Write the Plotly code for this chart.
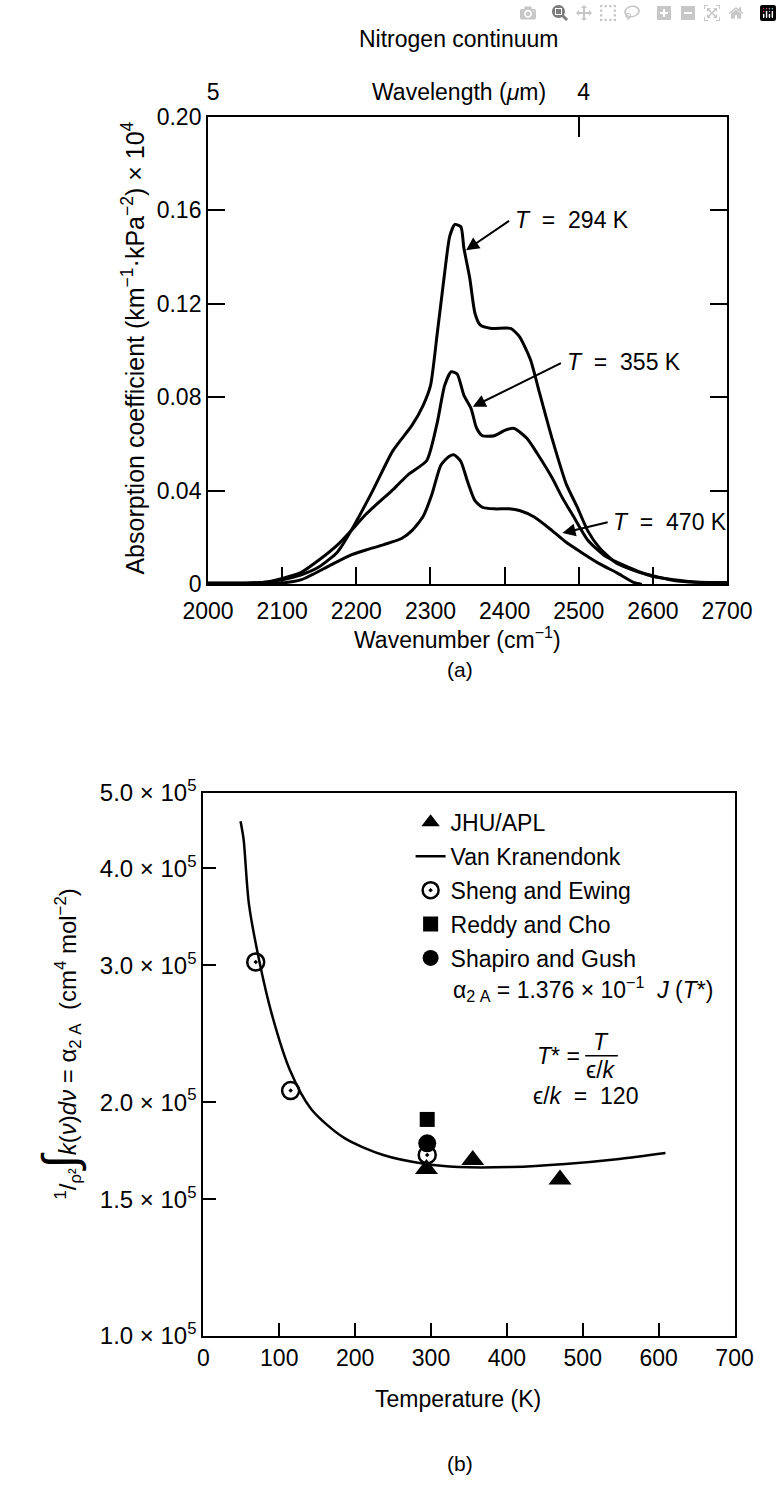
import math
import plotly.graph_objects as go

# ---------------- data: panel (a) nitrogen continuum ----------------
wn_294 = [2000, 2050, 2080, 2100, 2125, 2150, 2175, 2193, 2222, 2249, 2275, 2290, 2300, 2309,
          2319, 2326, 2333, 2341, 2345, 2353, 2360, 2367, 2382, 2408, 2420, 2435, 2447, 2459,
          2469, 2483, 2498, 2512, 2527, 2551, 2599, 2657, 2700]
k_294 = [0.0005, 0.0005, 0.001, 0.002, 0.004, 0.0075, 0.014, 0.023, 0.040, 0.057, 0.068, 0.0765,
         0.085, 0.107, 0.133, 0.149, 0.154, 0.153, 0.144, 0.131, 0.116, 0.111, 0.1095, 0.1095,
         0.106, 0.096, 0.082, 0.068, 0.057, 0.043, 0.033, 0.023, 0.016, 0.009, 0.0035, 0.001, 0.0008]

wn_355 = [2000, 2050, 2080, 2100, 2125, 2150, 2175, 2193, 2213, 2251, 2270, 2295, 2309, 2319,
          2328, 2336, 2345, 2355, 2362, 2370, 2386, 2401, 2413, 2430, 2444, 2464, 2478, 2493,
          2512, 2536, 2585, 2633, 2700]
k_355 = [0.0005, 0.0005, 0.001, 0.0025, 0.005, 0.0105, 0.017, 0.023, 0.0300, 0.041, 0.047, 0.053,
         0.069, 0.085, 0.091, 0.090, 0.081, 0.075, 0.067, 0.0636, 0.0636, 0.066, 0.0667, 0.0625,
         0.056, 0.0456, 0.037, 0.029, 0.019, 0.012, 0.005, 0.0014, 0.0005]

wn_470 = [2000, 2050, 2080, 2100, 2126, 2164, 2193, 2213, 2237, 2261, 2275, 2290, 2302, 2314,
          2325, 2332, 2341, 2350, 2360, 2370, 2386, 2406, 2420, 2440, 2464, 2483, 2502, 2527,
          2551, 2575, 2585]
k_470 = [0.0005, 0.0005, 0.0005, 0.0006, 0.002, 0.008, 0.0126, 0.0147, 0.017, 0.0196, 0.023,
         0.029, 0.0386, 0.051, 0.0547, 0.0554, 0.0526, 0.044, 0.0358, 0.033, 0.0323, 0.0323,
         0.0316, 0.0288, 0.023, 0.018, 0.014, 0.009, 0.005, 0.0007, 0.0]

a_xticks = [2000, 2100, 2200, 2300, 2400, 2500, 2600, 2700]
a_yticks = [0, 0.04, 0.08, 0.12, 0.16, 0.20]
a_yticktext = ["0", "0.04", "0.08", "0.12", "0.16", "0.20"]
wl_tickvals = [2000, 2500]
wl_ticktext = ["5", "4"]

# curve labels: text, arrow tail (wn, k), arrow head (wn, k)
curve_labels = ["<i>T</i>  =  294 K", "<i>T</i>  =  355 K", "<i>T</i>  =  470 K"]
label_tail_x = [2408, 2478, 2541]
label_tail_y = [0.156, 0.095, 0.0267]
label_head_x = [2348, 2357, 2478]
label_head_y = [0.143, 0.076, 0.022]

# ---------------- data: panel (b) integrated absorption ----------------
vk_T = [49, 53, 60, 74, 90, 114, 142, 185, 237, 293, 336, 406, 477, 548, 609]
vk_a = [4.6e5, 4.36e5, 3.6e5, 3.03e5, 2.6e5, 2.2e5, 1.96e5, 1.8e5, 1.71e5, 1.665e5, 1.65e5,
        1.65e5, 1.665e5, 1.69e5, 1.72e5]
jhu_T = [294, 355, 470]
jhu_a = [1.64e5, 1.685e5, 1.59e5]
sheng_T = [69, 115, 295]
sheng_a = [3.03e5, 2.07e5, 1.71e5]
reddy_T = [295]
reddy_a = [1.90e5]
shapiro_T = [295]
shapiro_a = [1.77e5]

b_yticks = [1.0e5, 1.5e5, 2.0e5, 3.0e5, 4.0e5, 5.0e5]
b_yticktext = ["1.0 × 10<sup>5</sup>", "1.5 × 10<sup>5</sup>", "2.0 × 10<sup>5</sup>",
               "3.0 × 10<sup>5</sup>", "4.0 × 10<sup>5</sup>", "5.0 × 10<sup>5</sup>"]
b_xticks = [0, 100, 200, 300, 400, 500, 600, 700]

# ---------------- figure ----------------
W, H = 782, 1492
FONT = "Liberation Sans, Arial, Helvetica, sans-serif"
FS = 23


def px(x):
    return x / W


def py(y):
    return 1 - y / H


fig = go.Figure()

line_style = dict(color="black", width=3, shape="spline", smoothing=0.6)
for xs, ys in [(wn_294, k_294), (wn_355, k_355), (wn_470, k_470)]:
    fig.add_trace(go.Scatter(x=xs, y=ys, mode="lines", line=line_style, showlegend=False,
                             xaxis="x", yaxis="y", hoverinfo="skip"))
# invisible trace so the top (wavelength) axis is drawn
fig.add_trace(go.Scatter(x=wn_294, y=k_294, mode="lines", line=dict(width=0), opacity=0,
                         showlegend=False, xaxis="x2", yaxis="y", hoverinfo="skip"))

# panel b
fig.add_trace(go.Scatter(x=jhu_T, y=jhu_a, mode="markers", name="JHU/APL",
                         marker=dict(symbol="triangle-up", size=20, color="black"),
                         xaxis="x3", yaxis="y3", legendgroup="g1"))
fig.add_trace(go.Scatter(x=vk_T, y=vk_a, mode="lines", name="Van Kranendonk",
                         line=dict(color="black", width=2.5, shape="spline", smoothing=0.8),
                         xaxis="x3", yaxis="y3", legendgroup="g2"))
fig.add_trace(go.Scatter(x=sheng_T, y=sheng_a, mode="markers", name="Sheng and Ewing",
                         marker=dict(symbol="circle-open-dot", size=17, color="black",
                                     line=dict(width=2.5, color="black")),
                         xaxis="x3", yaxis="y3", legendgroup="g3"))
fig.add_trace(go.Scatter(x=reddy_T, y=reddy_a, mode="markers", name="Reddy and Cho",
                         marker=dict(symbol="square", size=15, color="black"),
                         xaxis="x3", yaxis="y3", legendgroup="g4"))
fig.add_trace(go.Scatter(x=shapiro_T, y=shapiro_a, mode="markers", name="Shapiro and Gush",
                         marker=dict(symbol="circle", size=18, color="black"),
                         xaxis="x3", yaxis="y3", legendgroup="g5"))

axis_common = dict(showline=True, linecolor="black", linewidth=2, ticks="inside",
                   tickwidth=1.5, tickcolor="black", showgrid=False,
                   zeroline=False, tickfont=dict(size=FS, color="black", family=FONT))


def note(text, x, y, xanchor="center", yanchor="middle", size=FS, angle=0):
    return dict(text=text, x=px(x), y=py(y), xref="paper", yref="paper", showarrow=False,
                xanchor=xanchor, yanchor=yanchor, textangle=angle,
                font=dict(size=size, family=FONT, color="black"))


annotations = [
    note("Nitrogen continuum", 463, 22),
    note("Wavelength (<i>μ</i>m)", 464, 77),
    note("Wavenumber (cm<sup>−1</sup>)", 462, 634),
    note("(a)", 465, 666, size=FS - 2),
    note("Absorption coefficient (km<sup>−1</sup>·kPa<sup>−2</sup>) × 10<sup>4</sup>", 115, 338,
         size=25, angle=-90),
    note("Temperature (K)", 463, 1410),
    note("(b)", 465, 1476, size=FS - 2),
    note("<sup>1</sup>/<sub>ρ²</sub><span style='font-size:48px'>∫</span><i>k</i>(<i>ν</i>)<i>dν</i>"
         " = α<sub>2 A</sub>  (cm<sup>4</sup> mol<sup>−2</sup>)", 36, 1048, size=24, angle=-90),
    # formula text in panel b
    note("α<sub>2 A</sub> = 1.376 × 10<sup>−1</sup>  <i>J</i> (<i>T</i>*)", 455, 992,
         xanchor="left"),
    note("<i>T</i>* =", 545, 1060, xanchor="left"),
    note("<i>T</i>", 616, 1046),
    note("ϵ/<i>k</i>", 616, 1075),
    note("ϵ/<i>k</i>  =  120", 541, 1101, xanchor="left"),
]

# curve labels and arrows
for txt, tx, ty, hx, hy in zip(curve_labels, label_tail_x, label_tail_y, label_head_x, label_head_y):
    annotations.append(dict(x=hx, y=hy, ax=tx, ay=ty, xref="x", yref="y", axref="x", ayref="y",
                            text="", showarrow=True, arrowhead=2, arrowsize=1.3, arrowwidth=2,
                            arrowcolor="black"))
    annotations.append(dict(x=tx + 3, y=ty, xref="x", yref="y", text=txt, showarrow=False,
                            xanchor="left", yanchor="middle",
                            font=dict(size=FS, family=FONT, color="black")))

shapes = [dict(type="line", xref="paper", yref="paper", x0=px(599), x1=px(634),
               y0=py(1060), y1=py(1060), line=dict(color="black", width=1.5))]

fig.update_layout(
    width=W, height=H, autosize=False,
    margin=dict(l=0, r=0, t=0, b=0),
    paper_bgcolor="white", plot_bgcolor="white",
    font=dict(family=FONT, size=FS, color="black"),
    xaxis=dict(domain=[px(195), px(751)], range=[2000, 2700], tickvals=a_xticks,
               anchor="y", mirror=True, ticklen=17, ticklabelstandoff=5, **axis_common),
    yaxis=dict(domain=[py(579), py(102)], range=[0, 0.2], tickvals=a_yticks,
               ticktext=a_yticktext, anchor="x", mirror="ticks", ticklen=17, **axis_common),
    xaxis2=dict(overlaying="x", side="top", anchor="y", range=[2000, 2700],
                tickvals=wl_tickvals, ticktext=wl_ticktext, ticks="inside", ticklen=20,
                tickwidth=1.5, tickcolor="black", showline=False, showgrid=False,
                zeroline=False, ticklabelstandoff=11, ticklabelshift=5,
                tickfont=dict(size=FS, color="black", family=FONT)),
    xaxis3=dict(domain=[px(190), px(759)], range=[0, 700], tickvals=b_xticks,
                anchor="y3", mirror=True, ticklen=13, **axis_common),
    yaxis3=dict(domain=[py(1346), py(792)], type="log", range=[5, math.log10(5e5)],
                tickvals=b_yticks, ticktext=b_yticktext, anchor="x3", mirror=True,
                ticklen=13, showline=True, linecolor="black", linewidth=2, ticks="inside",
                tickwidth=1.5, tickcolor="black", showgrid=False, zeroline=False,
                tickfont=dict(size=24, color="black", family=FONT)),
    legend=dict(x=px(412), y=py(800), xanchor="left", yanchor="top",
                font=dict(size=FS, family=FONT, color="black"), bgcolor="rgba(0,0,0,0)",
                tracegroupgap=1, itemsizing="trace"),
    annotations=annotations,
    shapes=shapes,
    showlegend=True,
)

fig.write_html("out.html", post_script="document.body.style.margin='0';")
